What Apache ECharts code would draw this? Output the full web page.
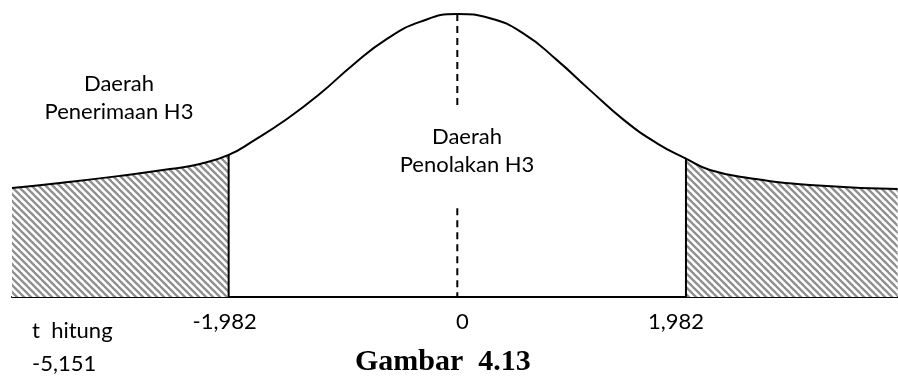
<!DOCTYPE html>
<html>
<head>
<meta charset="utf-8">
<script src="https://cdn.jsdelivr.net/npm/echarts@6/dist/echarts.min.js"></script>
<style>
  html, body { margin: 0; padding: 0; background: #ffffff; }
  #chart { width: 898px; height: 377px; }
</style>
</head>
<body>
<div id="chart"></div>
<script>
// t values along the horizontal axis and the relative height of the curve there
var tValues = [-3.86, -3.444, -2.924, -2.491, -2.231, -1.982, -1.772, -1.477, -1.191, -0.905, -0.610, -0.324, 0,
               0.283, 0.578, 0.864, 1.150, 1.445, 1.731, 1.982, 2.190, 2.536, 3.056, 3.817];
var density = [0.385, 0.403, 0.428, 0.452, 0.470, 0.502, 0.551, 0.629, 0.718, 0.820, 0.912, 0.972, 1.0,
               0.985, 0.930, 0.837, 0.731, 0.625, 0.543, 0.489, 0.449, 0.420, 0.396, 0.382];

// critical t values (t tabel) and the labels under the axis
var critValues = [-1.982, 0, 1.982];
var tHitungLabel = ['t  hitung', '-5,151'];
var leftRegionLabel = ['Daerah', 'Penerimaan H3'];
var middleRegionLabel = ['Daerah', 'Penolakan H3'];
var captionText = 'Gambar  4.13';

// dashed centre line, broken where the middle label sits
var centreDashUpper = [1.0, 0.661];
var centreDashLower = [0.314, 0];

var curve = tValues.map(function (t, i) { return [t, density[i]]; });
var leftTail = curve.filter(function (p) { return p[0] <= critValues[0]; });
var rightTail = curve.filter(function (p) { return p[0] >= critValues[2]; });
function heightAt(t) {
  for (var i = 0; i < curve.length; i++) { if (curve[i][0] === t) return curve[i][1]; }
  return 0;
}

// diagonal hatch used for the tails
function makeHatch() {
  var c = document.createElement('canvas');
  var s = 7;
  c.width = s; c.height = s;
  var g = c.getContext('2d');
  g.fillStyle = '#ffffff';
  g.fillRect(0, 0, s, s);
  g.strokeStyle = '#8f8f8f';
  g.lineWidth = 2.3;
  [-s, 0, s].forEach(function (k) {
    g.beginPath();
    g.moveTo(k - 1, -1);
    g.lineTo(k + s + 1, s + 1);
    g.stroke();
  });
  return c;
}
var hatch = { image: makeHatch(), repeat: 'repeat' };

var labelFont = 'Lato, "Open Sans", sans-serif';
var smoothness = 0.5;

var chart = echarts.init(document.getElementById('chart'), null, { renderer: 'canvas' });

function commaNum(v) { return String(v).replace('.', ','); }

function textEl(x, y, txt, align) {
  return {
    type: 'text', x: x, y: y,
    style: { text: txt, font: '22px ' + labelFont, fill: '#000', align: align, verticalAlign: 'middle' }
  };
}

var option = {
  backgroundColor: '#ffffff',
  animation: false,
  grid: { left: 12, right: 0, top: 14, bottom: 80 },
  xAxis: {
    type: 'value',
    min: -3.86,
    max: 3.82,
    splitLine: { show: false },
    axisTick: { show: false },
    axisLine: { show: true, onZero: false, lineStyle: { color: '#000000', width: 2 } },
    axisLabel: {
      customValues: critValues,
      margin: 14,
      color: '#000000',
      fontFamily: labelFont,
      fontSize: 22,
      formatter: function (v) {
        var s = commaNum(v);
        if (v < 0) return '{l|' + s + '}';
        if (v > 0) return '{r|' + s + '}';
        return '{z|' + s + '}';
      },
      rich: {
        l: { fontFamily: labelFont, fontSize: 22, color: '#000', padding: [0, 8, 0, 0] },
        z: { fontFamily: labelFont, fontSize: 22, color: '#000', padding: [0, 0, 0, 10] },
        r: { fontFamily: labelFont, fontSize: 22, color: '#000', padding: [0, 20, 0, 0] }
      }
    }
  },
  yAxis: { type: 'value', min: 0, max: 1, show: false },
  series: [
    {
      name: 'leftTail', type: 'line', data: leftTail, smooth: smoothness, symbol: 'none',
      lineStyle: { width: 0 }, areaStyle: { color: hatch, opacity: 1 }, z: 1
    },
    {
      name: 'rightTail', type: 'line', data: rightTail, smooth: smoothness, symbol: 'none',
      lineStyle: { width: 0 }, areaStyle: { color: hatch, opacity: 1 }, z: 1
    },
    {
      name: 'curve', type: 'line', data: curve, smooth: smoothness, symbol: 'none',
      lineStyle: { color: '#000000', width: 2 }, z: 3
    },
    {
      name: 'leftBound', type: 'line', symbol: 'none',
      data: [[critValues[0], 0], [critValues[0], heightAt(critValues[0])]],
      lineStyle: { color: '#000000', width: 2 }, z: 3
    },
    {
      name: 'rightBound', type: 'line', symbol: 'none',
      data: [[critValues[2], 0], [critValues[2], heightAt(critValues[2])]],
      lineStyle: { color: '#000000', width: 2 }, z: 3
    },
    {
      name: 'centreUpper', type: 'line', symbol: 'none',
      data: [[critValues[1], centreDashUpper[0]], [critValues[1], centreDashUpper[1]]],
      lineStyle: { color: '#000000', width: 2, type: [7, 5] }, z: 2
    },
    {
      name: 'centreLower', type: 'line', symbol: 'none',
      data: [[critValues[1], centreDashLower[0]], [critValues[1], centreDashLower[1]]],
      lineStyle: { color: '#000000', width: 2, type: [7, 5] }, z: 2
    }
  ],
  graphic: [
    textEl(119, 84, leftRegionLabel[0], 'center'),
    textEl(119, 112, leftRegionLabel[1], 'center'),
    textEl(467, 137, middleRegionLabel[0], 'center'),
    textEl(467, 165, middleRegionLabel[1], 'center'),
    textEl(32, 331, tHitungLabel[0], 'left'),
    textEl(32, 364, tHitungLabel[1], 'left'),
    { type: 'text', x: 355, y: 362, style: { text: captionText, font: 'bold 30px "Liberation Serif", "Times New Roman", serif', fill: '#000', align: 'left', verticalAlign: 'middle' } }
  ]
};
chart.setOption(option);
</script>
</body>
</html>
